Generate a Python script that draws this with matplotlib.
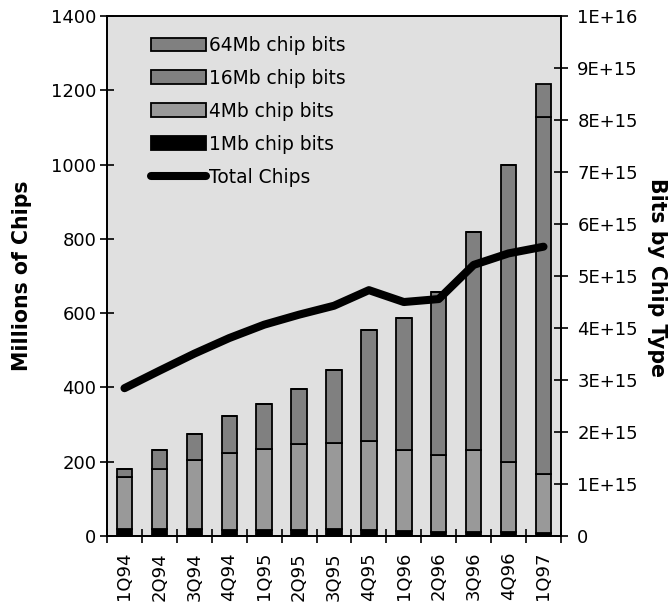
import numpy as np
import matplotlib.pyplot as plt
from matplotlib.ticker import FuncFormatter

plt.rcParams['font.family'] = ['DejaVu Sans']

quarters = ['1Q94', '2Q94', '3Q94', '4Q94', '1Q95', '2Q95', '3Q95',
            '4Q95', '1Q96', '2Q96', '3Q96', '4Q96', '1Q97']

# total DRAM units shipped, millions
total_chips = [398, 445, 491, 533, 569, 596, 620, 662, 630, 638, 730, 761, 779]

# bits shipped per chip density, in units of 1E+15 bits
bits_1mb = [0.14, 0.14, 0.13, 0.11, 0.11, 0.11, 0.13, 0.11, 0.09, 0.08, 0.07, 0.07, 0.06]
bits_4mb = [1.00, 1.15, 1.34, 1.49, 1.57, 1.65, 1.66, 1.71, 1.57, 1.48, 1.59, 1.36, 1.14]
bits_16mb = [0.15, 0.37, 0.49, 0.70, 0.85, 1.06, 1.41, 2.14, 2.53, 3.14, 4.19, 5.70, 6.86]
bits_64mb = [0, 0, 0, 0, 0, 0, 0, 0, 0, 0, 0, 0, 0.64]

fig = plt.figure(figsize=(6.71, 6.06), dpi=100)
ax = fig.add_axes([0.1595, 0.1155, 0.6765, 0.858])
ax2 = ax.twinx()

x = np.arange(len(quarters))
bottom = np.zeros(len(quarters))
series = [
    (bits_1mb, 'black', '1Mb chip bits'),
    (bits_4mb, '#999999', '4Mb chip bits'),
    (bits_16mb, '#808080', '16Mb chip bits'),
    (bits_64mb, '#808080', '64Mb chip bits'),
]
bar_handles = []
for vals, color, label in series:
    v = np.array(vals) * 1e15
    b = ax2.bar(x, v, 0.44, bottom=bottom, color=color, edgecolor='black',
                linewidth=1.3, label=label)
    bar_handles.append(b)
    bottom += v

line, = ax.plot(x, total_chips, color='black', lw=5.8, solid_capstyle='round',
                solid_joinstyle='round', label='Total Chips')

# line axis on top of the bars
ax.set_zorder(ax2.get_zorder() + 1)
ax.patch.set_visible(False)
ax2.patch.set_visible(True)
ax2.patch.set_facecolor('#e0e0e0')

ax.set_xlim(-0.5, len(quarters) - 0.5)
ax.set_ylim(0, 1400)
ax.set_yticks(range(0, 1401, 200))
ax2.set_ylim(0, 1e16)
ax2.set_yticks(np.arange(0, 1.01e16, 1e15))


def sci(v, pos):
    if v == 0:
        return '0'
    e = int(np.floor(np.log10(v) + 1e-9))
    return '%dE+%d' % (round(v / 10 ** e), e)


ax2.yaxis.set_major_formatter(FuncFormatter(sci))

ax.set_xticks(x)
ax.set_xticklabels(quarters, rotation=90)
ax.set_xticks(np.arange(-0.5, len(quarters), 1), minor=True)
ax.tick_params(axis='x', which='major', length=0, pad=11.5, labelsize=13)
ax.tick_params(axis='x', which='minor', direction='inout', length=9.5, width=1.2)
ax.tick_params(axis='y', direction='inout', length=9.5, width=1.2, pad=3, labelsize=13)
ax2.tick_params(axis='y', direction='inout', length=9.5, width=1.2, pad=7, labelsize=13)

for a in (ax, ax2):
    for s in a.spines.values():
        s.set_linewidth(1.3)

fig.text(22 / 671, 1 - 276 / 606, 'Millions of Chips', fontsize=14.8,
         fontweight='bold', rotation=90, ha='center', va='center')
fig.text(657 / 671, 1 - 278 / 606, 'Bits by Chip Type', fontsize=14.8,
         fontweight='bold', rotation=-90, ha='center', va='center')

handles = bar_handles[::-1] + [line]
ax.legend(handles=handles, labels=[h.get_label() for h in handles],
          loc='upper left', bbox_to_anchor=(0.096, 0.962), frameon=False,
          fontsize=13.4, handlelength=2.96, handleheight=0.75, handletextpad=0.2,
          labelspacing=0.75, borderpad=0, borderaxespad=0)

fig.savefig('out.png', dpi=100)
